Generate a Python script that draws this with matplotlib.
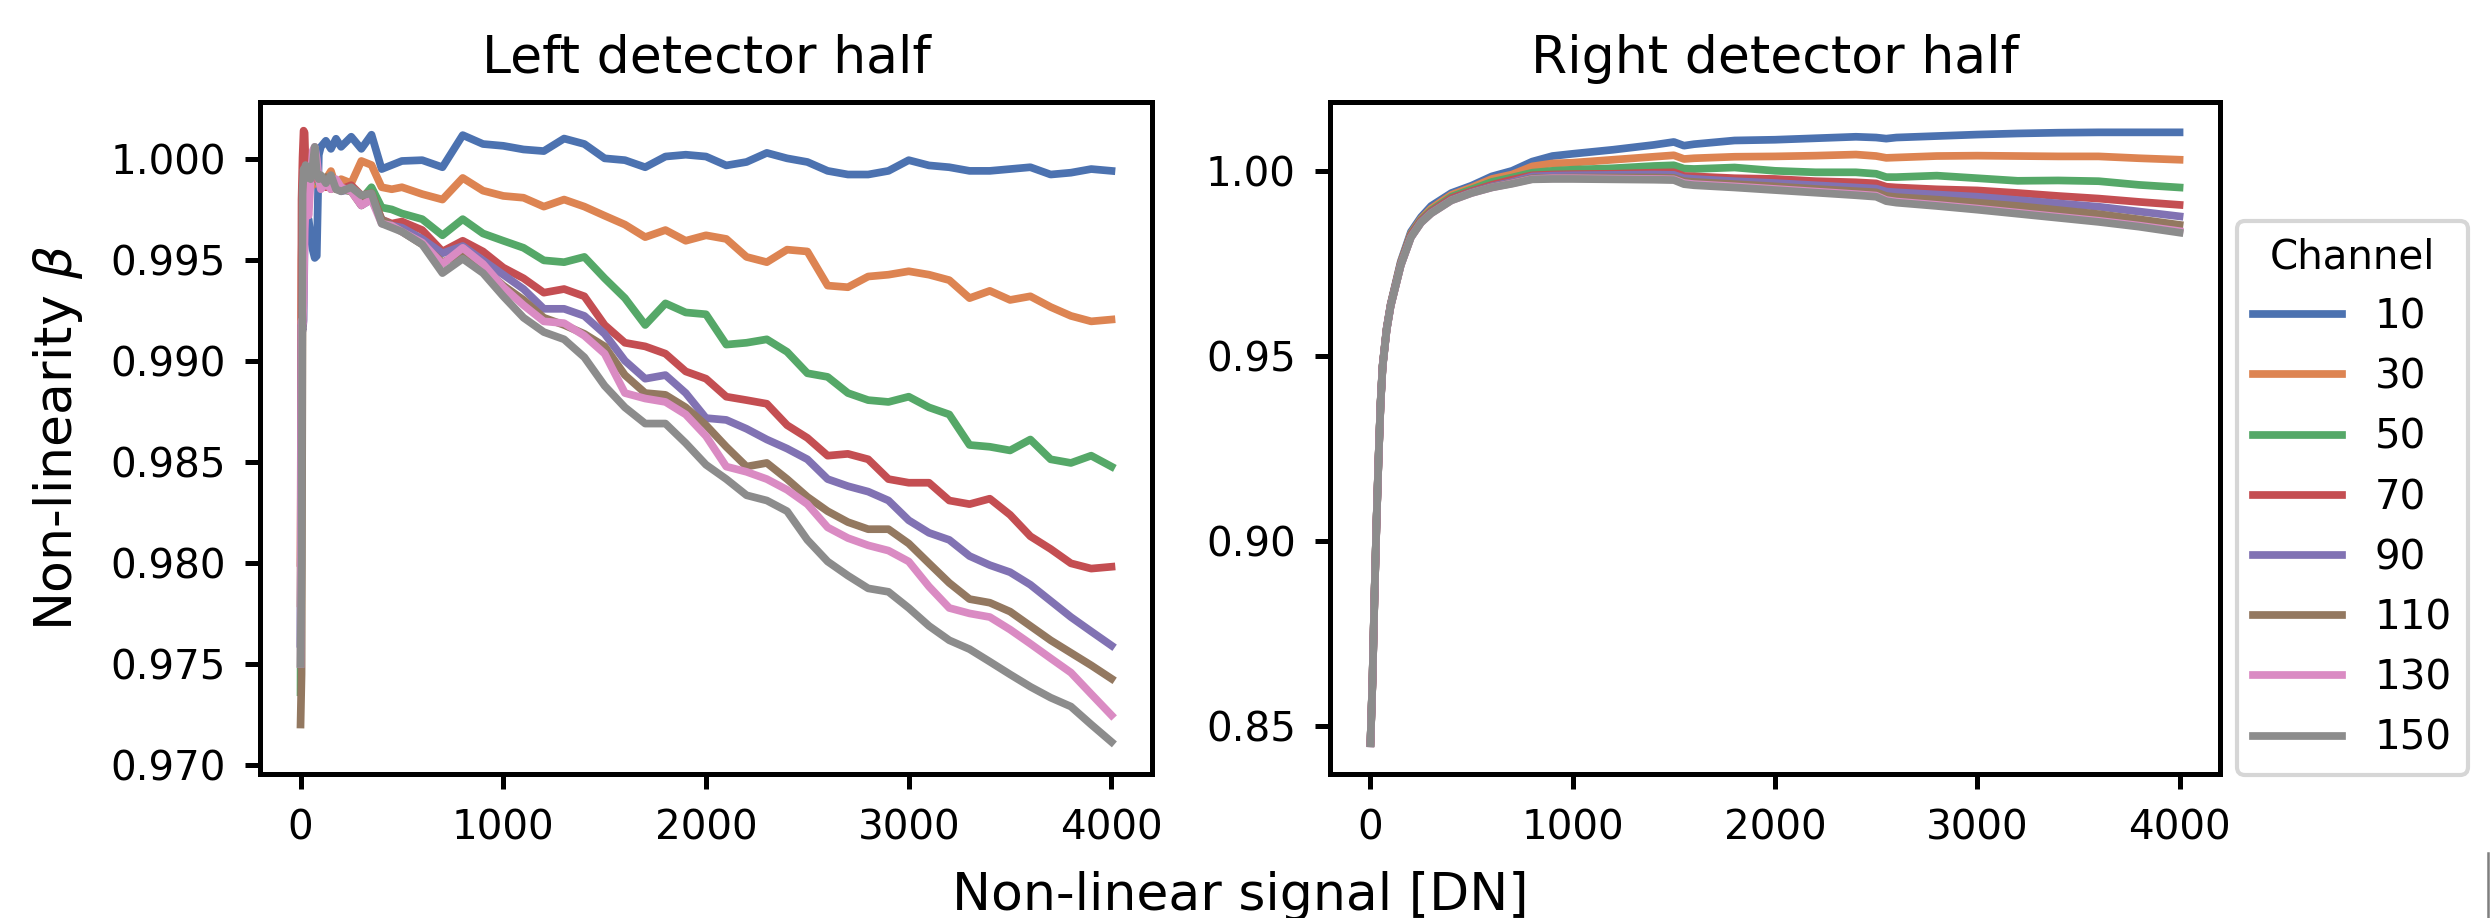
import matplotlib
matplotlib.use("Agg")
import matplotlib.pyplot as plt
from matplotlib.lines import Line2D

# ---------------- data ----------------
channels = ["10", "30", "50", "70", "90", "110", "130", "150"]
colors = ["#4C72B0", "#DD8452", "#55A868", "#C44E52", "#8172B3", "#937860", "#DA8BC3", "#8C8C8C"]

x_left = [0, 5, 10, 15, 20, 25, 30, 40, 50, 60, 70, 80, 90, 100, 125, 150, 175, 200, 250, 300,
          350, 400, 450, 500, 600, 700, 800, 900, 1000, 1100, 1200, 1300, 1400, 1500, 1600,
          1700, 1800, 1900, 2000, 2100, 2200, 2300, 2400, 2500, 2600, 2700, 2800, 2900, 3000,
          3100, 3200, 3300, 3400, 3500, 3600, 3700, 3800, 3900, 4000]

left_10 = [0.9760, 0.9900, 0.9940, 0.9955, 0.9960, 0.9968, 0.9972, 0.9970, 0.9962, 0.9955, 0.9951, 0.9952,
           1.0002, 1.0006, 1.0009, 1.0005, 1.0010, 1.0006, 1.0011, 1.0005, 1.0012, 0.9995, 0.9997, 0.9999,
           0.99994, 0.99959, 1.00118, 1.00074, 1.00065, 1.00047, 1.00039, 1.00101, 1.00074, 1.00003,
           0.99994, 0.99959, 1.00012, 1.00021, 1.00012, 0.99968, 0.99985, 1.00030, 1.00003, 0.99985,
           0.99941, 0.99923, 0.99923, 0.99941, 0.99994, 0.99968, 0.99959, 0.99941, 0.99941, 0.99950,
           0.99959, 0.99923, 0.99932, 0.99950, 0.99941]
left_30 = [0.9780, 0.9950, 0.9975, 0.9985, 0.9990, 0.9988, 0.9985, 0.9990, 0.9993, 0.9987, 0.9990, 0.9992,
           0.9988, 0.9986, 0.9990, 0.9994, 0.9986, 0.9990, 0.9988, 0.9999, 0.9997, 0.9986, 0.9985, 0.9986,
           0.99826, 0.99799, 0.99906, 0.99843, 0.99817, 0.99808, 0.99764, 0.99799, 0.99764, 0.99719,
           0.99675, 0.99613, 0.99648, 0.99595, 0.99622, 0.99604, 0.99515, 0.99489, 0.99551, 0.99542,
           0.99373, 0.99365, 0.99418, 0.99427, 0.99444, 0.99427, 0.99400, 0.99311, 0.99347, 0.99302,
           0.99320, 0.99267, 0.99223, 0.99196, 0.99205]
left_50 = [0.9736, 0.9900, 0.9960, 0.9985, 0.9990, 0.9988, 0.9990, 0.9992, 0.9990, 0.9993, 0.9991, 0.9990,
           0.9988, 0.9989, 0.9990, 0.9988, 0.9986, 0.9985, 0.9984, 0.9980, 0.9986, 0.9976, 0.9975, 0.9973,
           0.99702, 0.99622, 0.99702, 0.99631, 0.99595, 0.99560, 0.99498, 0.99489, 0.99515, 0.99409,
           0.99311, 0.99178, 0.99285, 0.99240, 0.99231, 0.99081, 0.99090, 0.99107, 0.99045, 0.98939,
           0.98921, 0.98841, 0.98806, 0.98797, 0.98823, 0.98770, 0.98735, 0.98584, 0.98575, 0.98557,
           0.98611, 0.98513, 0.98495, 0.98531, 0.98477]
left_70 = [0.9800, 0.9980, 1.0001, 1.0014, 1.0013, 0.9995, 0.9990, 0.9986, 0.9990, 0.9992, 0.9990, 0.9992,
           0.9990, 0.9990, 0.9986, 0.9988, 0.9985, 0.9985, 0.9987, 0.9982, 0.9983, 0.9970, 0.9968, 0.9969,
           0.99648, 0.99542, 0.99595, 0.99542, 0.99462, 0.99409, 0.99338, 0.99356, 0.99320, 0.99178,
           0.99090, 0.99072, 0.99036, 0.98948, 0.98912, 0.98823, 0.98806, 0.98788, 0.98682, 0.98619,
           0.98531, 0.98540, 0.98513, 0.98415, 0.98397, 0.98397, 0.98309, 0.98291, 0.98318, 0.98238,
           0.98132, 0.98069, 0.97998, 0.97972, 0.97981]
left_90 = [0.9760, 0.9918, 0.9915, 0.9920, 0.9960, 0.9985, 0.9990, 0.9993, 0.9995, 0.9992, 0.9997, 0.9993,
           0.9990, 0.9990, 0.9988, 0.9986, 0.9987, 0.9984, 0.9985, 0.9977, 0.9980, 0.9970, 0.9967, 0.9966,
           0.99604, 0.99533, 0.99569, 0.99498, 0.99427, 0.99356, 0.99258, 0.99258, 0.99223, 0.99134,
           0.99001, 0.98912, 0.98930, 0.98841, 0.98717, 0.98708, 0.98664, 0.98611, 0.98566, 0.98513,
           0.98415, 0.98380, 0.98353, 0.98309, 0.98211, 0.98149, 0.98114, 0.98034, 0.97989, 0.97954,
           0.97892, 0.97812, 0.97732, 0.97661, 0.97591]
left_110 = [0.9720, 0.9745, 0.9930, 0.9960, 0.9985, 0.9990, 0.9992, 0.9990, 0.9995, 0.9994, 0.9997, 0.9995,
            0.9990, 0.9989, 0.9991, 0.9985, 0.9987, 0.9985, 0.9984, 0.9977, 0.9982, 0.9970, 0.9967, 0.9964,
            0.99577, 0.99489, 0.99533, 0.99462, 0.99373, 0.99302, 0.99214, 0.99178, 0.99134, 0.99072,
            0.98930, 0.98841, 0.98832, 0.98770, 0.98682, 0.98575, 0.98477, 0.98495, 0.98415, 0.98327,
            0.98256, 0.98202, 0.98167, 0.98167, 0.98096, 0.97998, 0.97901, 0.97821, 0.97803, 0.97759,
            0.97688, 0.97617, 0.97555, 0.97493, 0.97427]
left_130 = [0.9750, 0.9920, 0.9918, 0.9930, 0.9965, 0.9975, 0.9975, 0.9972, 0.9990, 1.0004, 1.0006, 1.0000,
            0.9990, 0.9985, 0.9988, 0.9985, 0.9990, 0.9986, 0.9984, 0.9977, 0.9980, 0.9968, 0.9967, 0.9964,
            0.99586, 0.99480, 0.99560, 0.99480, 0.99365, 0.99276, 0.99196, 0.99187, 0.99125, 0.99036,
            0.98841, 0.98814, 0.98797, 0.98735, 0.98628, 0.98477, 0.98451, 0.98415, 0.98362, 0.98291,
            0.98176, 0.98123, 0.98087, 0.98061, 0.98007, 0.97883, 0.97777, 0.97750, 0.97732, 0.97670,
            0.97600, 0.97528, 0.97457, 0.97351, 0.97246]
left_150 = [0.9750, 0.9800, 0.9985, 0.9995, 0.9990, 0.9997, 0.9993, 0.9995, 0.9990, 0.9997, 1.0006, 0.9993,
            0.9990, 0.9992, 0.9988, 0.9992, 0.9985, 0.9984, 0.9986, 0.9982, 0.9983, 0.9968, 0.9966, 0.9964,
            0.99577, 0.99435, 0.99506, 0.99435, 0.99320, 0.99214, 0.99143, 0.99107, 0.99018, 0.98877,
            0.98770, 0.98690, 0.98690, 0.98593, 0.98486, 0.98415, 0.98335, 0.98309, 0.98256, 0.98114,
            0.98007, 0.97937, 0.97874, 0.97857, 0.97777, 0.97688, 0.97617, 0.97573, 0.97511, 0.97448,
            0.97387, 0.97333, 0.97289, 0.97200, 0.97114]

x_right = [0, 10, 20, 30, 40, 50, 60, 80, 100, 150, 200, 250, 300, 400, 500, 600, 700, 800, 900, 1000,
           1200, 1400, 1500, 1550, 1600, 1800, 2000, 2200, 2400, 2500, 2550, 2600, 2800, 3000, 3200,
           3400, 3600, 3800, 4000]

right_10 = [0.8455, 0.8625, 0.8855, 0.9055, 0.9225, 0.9375, 0.9475, 0.9575, 0.9640, 0.9755, 0.9835, 0.9875,
            0.9905, 0.9940, 0.9960, 0.9985, 1.0000, 1.0025, 1.0040, 1.0046, 1.0057, 1.0070, 1.0078, 1.0068,
            1.0072, 1.0082, 1.0084, 1.0088, 1.0092, 1.0090, 1.0087, 1.0090, 1.0094, 1.0098, 1.0101,
            1.0103, 1.0104, 1.0104, 1.0104]
right_30 = [0.8455, 0.8624, 0.8854, 0.9054, 0.9224, 0.9374, 0.9474, 0.9574, 0.9639, 0.9752, 0.9830, 0.9870,
            0.9898, 0.9935, 0.9955, 0.9978, 0.9990, 1.0012, 1.0020, 1.0022, 1.0030, 1.0038, 1.0042, 1.0032,
            1.0034, 1.0038, 1.0039, 1.0041, 1.0044, 1.0040, 1.0035, 1.0036, 1.0040, 1.0041, 1.0040,
            1.0039, 1.0039, 1.0034, 1.0030]
right_50 = [0.8454, 0.8623, 0.8853, 0.9053, 0.9223, 0.9373, 0.9473, 0.9573, 0.9638, 0.9750, 0.9828, 0.9867,
            0.9893, 0.9930, 0.9950, 0.9970, 0.9982, 0.9995, 1.0000, 1.0003, 1.0007, 1.0013, 1.0015, 1.0006,
            1.0005, 1.0009, 1.0000, 0.9996, 0.9996, 0.9992, 0.9983, 0.9983, 0.9987, 0.9980, 0.9973,
            0.9974, 0.9972, 0.9962, 0.9955]
right_70 = [0.8454, 0.8622, 0.8852, 0.9052, 0.9222, 0.9372, 0.9472, 0.9572, 0.9637, 0.9748, 0.9826, 0.9865,
            0.9890, 0.9926, 0.9945, 0.9962, 0.9976, 0.9988, 0.9990, 0.9991, 0.9992, 0.9995, 0.9996, 0.9986,
            0.9985, 0.9980, 0.9978, 0.9972, 0.9969, 0.9966, 0.9957, 0.9955, 0.9950, 0.9947, 0.9940,
            0.9932, 0.9925, 0.9916, 0.9908]
right_90 = [0.8453, 0.8621, 0.8851, 0.9051, 0.9221, 0.9371, 0.9471, 0.9571, 0.9636, 0.9746, 0.9822, 0.9862,
            0.9887, 0.9922, 0.9942, 0.9958, 0.9970, 0.9985, 0.9987, 0.9988, 0.9989, 0.9990, 0.9989, 0.9980,
            0.9978, 0.9972, 0.9967, 0.9961, 0.9955, 0.9952, 0.9944, 0.9942, 0.9936, 0.9930, 0.9921,
            0.9912, 0.9903, 0.9890, 0.9877]
right_110 = [0.8453, 0.8620, 0.8850, 0.9050, 0.9220, 0.9370, 0.9470, 0.9570, 0.9635, 0.9745, 0.9821, 0.9861,
             0.9886, 0.9921, 0.9941, 0.9956, 0.9967, 0.9980, 0.9981, 0.9982, 0.9982, 0.9982, 0.9981, 0.9972,
             0.9970, 0.9964, 0.9958, 0.9951, 0.9945, 0.9942, 0.9932, 0.9929, 0.9922, 0.9914, 0.9905,
             0.9894, 0.9883, 0.9869, 0.9854]
right_130 = [0.8453, 0.8620, 0.8850, 0.9050, 0.9220, 0.9370, 0.9470, 0.9570, 0.9635, 0.9745, 0.9820, 0.9860,
             0.9885, 0.9920, 0.9940, 0.9955, 0.9966, 0.9978, 0.9980, 0.9980, 0.9979, 0.9978, 0.9977, 0.9967,
             0.9964, 0.9958, 0.9951, 0.9944, 0.9937, 0.9933, 0.9921, 0.9917, 0.9908, 0.9898, 0.9887,
             0.9876, 0.9865, 0.9852, 0.9837]
right_150 = [0.8453, 0.8620, 0.8850, 0.9050, 0.9220, 0.9370, 0.9470, 0.9570, 0.9635, 0.9745, 0.9820, 0.9860,
             0.9885, 0.9920, 0.9940, 0.9955, 0.9965, 0.9977, 0.9978, 0.9978, 0.9977, 0.9976, 0.9975, 0.9964,
             0.9961, 0.9955, 0.9948, 0.9941, 0.9934, 0.9930, 0.9918, 0.9914, 0.9905, 0.9895, 0.9884,
             0.9873, 0.9862, 0.9849, 0.9833]

left_series = [left_10, left_30, left_50, left_70, left_90, left_110, left_130, left_150]
right_series = [right_10, right_30, right_50, right_70, right_90, right_110, right_130, right_150]

left_yticks = [0.970, 0.975, 0.980, 0.985, 0.990, 0.995, 1.000]
right_yticks = [0.85, 0.90, 0.95, 1.00]
xticks = [0, 1000, 2000, 3000, 4000]

# ---------------- style ----------------
plt.rcParams.update({
    "font.family": "DejaVu Sans",
    "axes.linewidth": 1.2,
    "xtick.major.width": 1.2,
    "ytick.major.width": 1.2,
    "xtick.major.size": 3.6,
    "ytick.major.size": 3.6,
    "xtick.major.pad": 4.6,
    "ytick.major.pad": 4.6,
    "xtick.labelsize": 9.7,
    "ytick.labelsize": 9.7,
})

W, H = 2490, 918
fig = plt.figure(figsize=(W / 300, H / 300), dpi=300)

def box(l, t, r, b):
    return [l / W, 1 - b / H, (r - l) / W, (b - t) / H]

axL = fig.add_axes(box(260, 102, 1152, 774))
axR = fig.add_axes(box(1330, 102, 2220, 774))

lw = 1.85
for ys, c, lab in zip(left_series, colors, channels):
    axL.plot(x_left, ys, color=c, lw=lw, label=lab)
for ys, c, lab in zip(right_series, colors, channels):
    axR.plot(x_right, ys, color=c, lw=lw, label=lab)

axL.set_xlim(-200, 4200)
axR.set_xlim(-200, 4200)
axL.set_ylim(0.96955, 1.00282)
axR.set_ylim(0.8370, 1.0186)
axL.set_xticks(xticks)
axR.set_xticks(xticks)
axL.set_yticks(left_yticks)
axL.set_yticklabels([f"{v:.3f}" for v in left_yticks])
axR.set_yticks(right_yticks)
axR.set_yticklabels([f"{v:.2f}" for v in right_yticks])

axL.set_title("Left detector half", fontsize=12.5, pad=7)
axR.set_title("Right detector half", fontsize=12.5, pad=7)
axL.set_ylabel(r"Non-linearity $\beta$", fontsize=12.5, labelpad=6)
fig.text(1240 / W, 8 / H, "Non-linear signal [DN]", ha="center", va="baseline", fontsize=12.5)

leg = axR.legend(title="Channel", loc="lower left", bbox_to_anchor=(2237 / W, 1 - 775 / H),
                 bbox_transform=fig.transFigure, borderaxespad=0, fontsize=9.7,
                 title_fontsize=9.7, handlelength=2.2)

# small clipped mark at the lower right edge of the reference image
fig.add_artist(Line2D([2487.5 / W, 2487.5 / W], [0, 65 / H], transform=fig.transFigure,
                      color="#7f7f7f", lw=0.6))

fig.savefig("out.png", dpi=300)
